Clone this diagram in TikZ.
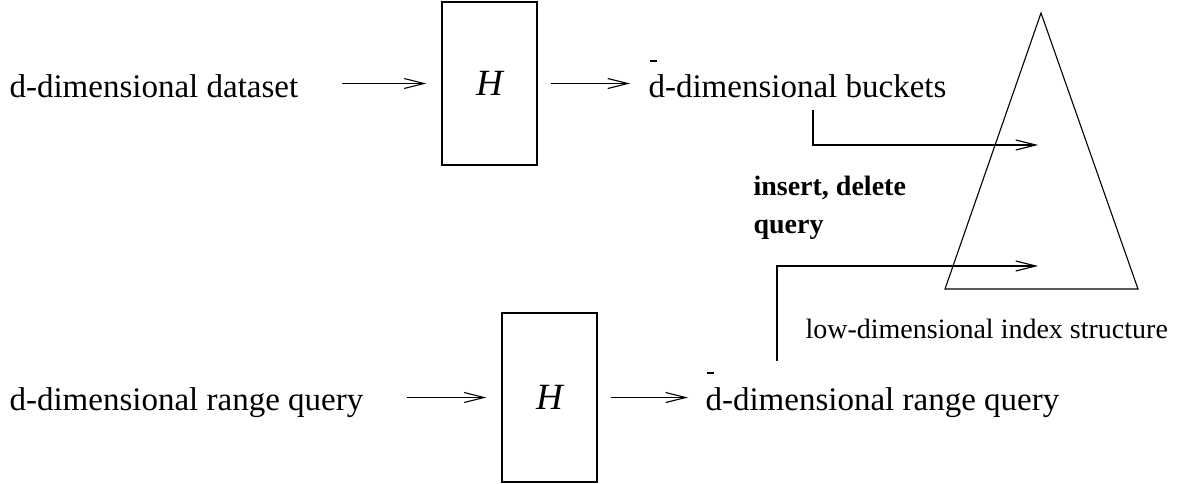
\documentclass[tikz,border=0pt]{standalone}
\usepackage{fontspec}
\setmainfont{Liberation Serif}
\usetikzlibrary{arrows.meta,calc}

% "d" with a short bar set high above it
\newcommand{\barredd}{\leavevmode\rlap{\hspace{0.03em}\raisebox{1.08em}{\rule{0.23em}{0.06em}}}d}

\begin{document}
\begin{tikzpicture}[x=1pt,y=-1pt,line width=1.1pt,
  lbl/.style={inner sep=0pt,anchor=base west,font=\fontsize{33}{40}\selectfont},
  small/.style={inner sep=0pt,anchor=base west,font=\fontsize{28}{34}\selectfont},
  tag/.style={inner sep=0pt,anchor=base west,font=\fontsize{28}{34}\selectfont\bfseries},
  hbox/.style={draw,rectangle,minimum width=95pt,inner sep=0pt,font=\fontsize{37}{40}\selectfont\itshape},
  arr/.style={-{Straight Barb[length=20pt,width=10pt]}}
]
\useasboundingbox (0,0) rectangle (1182,484);

% upper row: data set through the mapping H
\node[lbl] (ds) at (9,98) {d-dimensional dataset};
\node[hbox,minimum height=163pt] (H1) at (489.5,83.5) {H};
\node[lbl] (bk) at (648,98) {\barredd-dimensional buckets};

% lower row: query through the mapping H
\node[lbl] (rq) at (9,410) {d-dimensional range query};
\node[hbox,minimum height=169pt] (H2) at (549.5,397.5) {H};
\node[lbl] (rq2) at (705,410) {\barredd-dimensional range query};

% index structure
\coordinate (apex) at (1041,13);
\coordinate (bl) at (945,289);
\coordinate (br) at (1138,289);
\draw (apex) -- (bl) -- (br) -- cycle;
\node[small] (idx) at (805,338) {low-dimensional index structure};

% operation labels
\node[tag] (ins) at (753,195) {insert, delete};
\node[tag] (qry) at (753,233) {query};

% arrows along the rows
\draw[arr] ($(H1.west -| ds.east)+(43,0)$) -- ($(H1.west)+(-15,0)$);
\draw[arr] ($(H1.east)+(13,0)$) -- ($(H1.east -| bk.west)+(-18,0)$);
\draw[arr] ($(H2.west -| rq.east)+(43,0)$) -- ($(H2.west)+(-15,0)$);
\draw[arr] ($(H2.east)+(13,0)$) -- ($(H2.east -| rq2.west)+(-17,0)$);

% arrows into the index structure
\coordinate (inTop) at (1038,145);
\coordinate (inBot) at (1038,266);
\draw[arr] ($(bk.base west)+(165,12)$) |- (inTop);
\draw[arr] ($(rq2.base west)+(72,-49)$) |- (inBot);
\end{tikzpicture}
\end{document}
